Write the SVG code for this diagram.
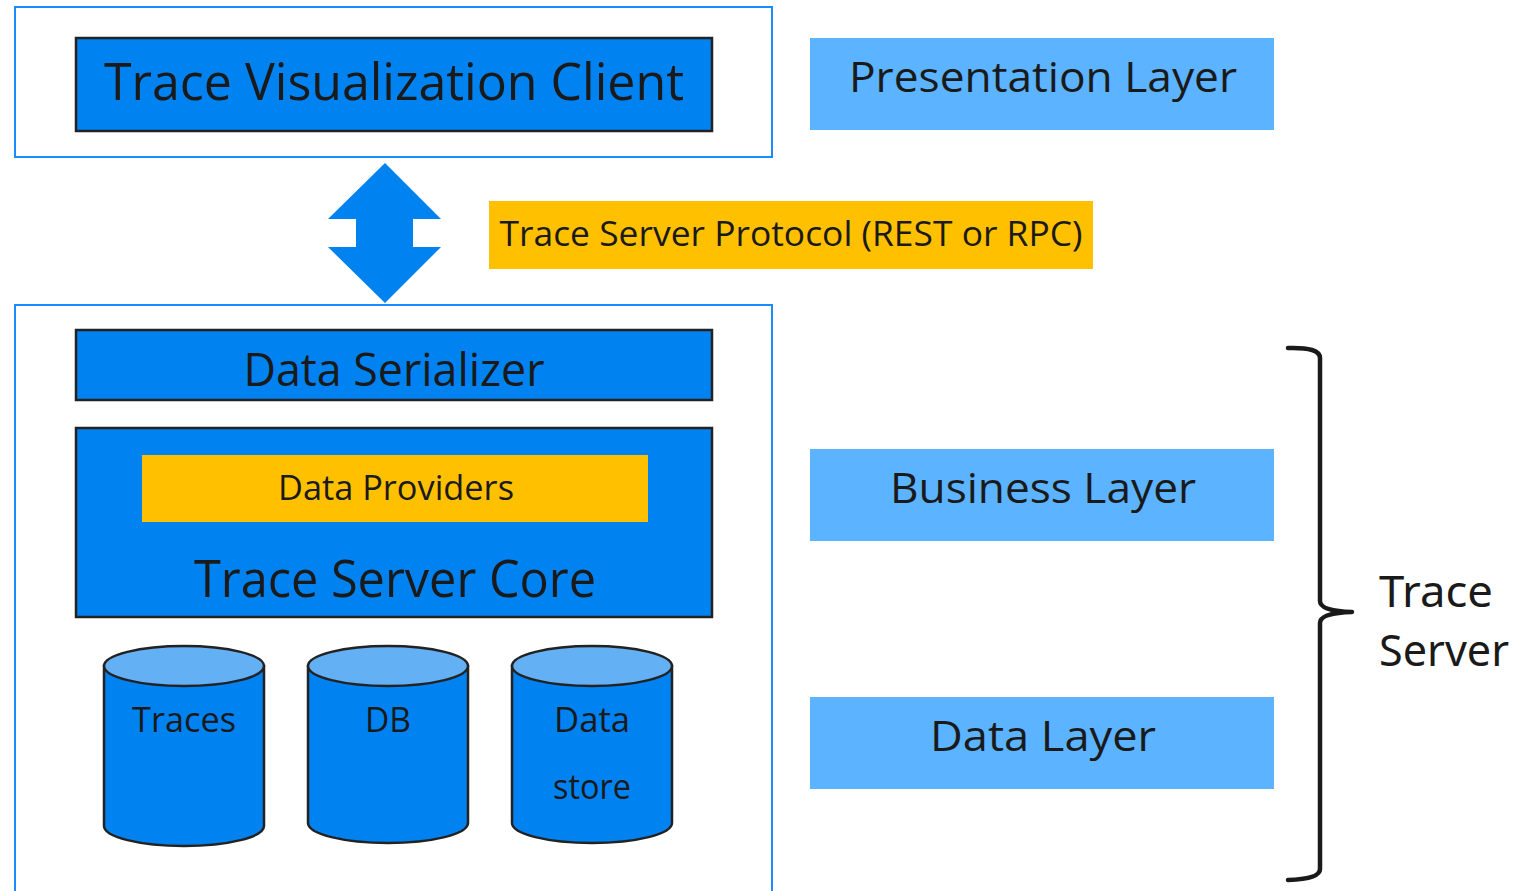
<svg xmlns="http://www.w3.org/2000/svg" width="1524" height="891" viewBox="0 0 1524 891">
  <style>
    .frame { fill: #ffffff; stroke: #1a8cff; stroke-width: 2; }
    .block { fill: #0082f0; stroke: #222222; stroke-width: 2.5; }
    .amber { fill: #ffc000; }
    .layer { fill: #5cb3ff; }
    .lbl { font-family: "Open Sans", "Noto Sans", sans-serif; fill: #1a1a1a; text-anchor: middle; }
    .side { font-family: "Noto Sans", "Open Sans", sans-serif; fill: #1a1a1a; }
    .cyl-body { fill: #0082f0; stroke: #222222; stroke-width: 2.5; }
    .cyl-top { fill: #63b0f5; stroke: #222222; stroke-width: 2.5; }
  </style>

  <!-- client tier -->
  <g id="client-frame">
    <rect class="frame" x="15" y="7" width="757" height="150"/>
  </g>
  <g id="trace-visualization-client">
    <rect class="block" x="76" y="38" width="636" height="93"/>
    <text class="lbl" x="394" y="100" font-size="52" textLength="580" lengthAdjust="spacingAndGlyphs">Trace Visualization Client</text>
  </g>

  <!-- protocol link -->
  <g id="connectors">
    <polygon fill="#0082f0" points="385,163 441,219 413,219 413,247 441,247 385,303 328,247 356,247 356,219 328,219"/>
  </g>
  <g id="protocol-label">
    <rect class="amber" x="489" y="201" width="604" height="68"/>
    <text class="lbl" x="791" y="246" font-size="34" textLength="583" lengthAdjust="spacingAndGlyphs">Trace Server Protocol (REST or RPC)</text>
  </g>

  <!-- server tier -->
  <g id="server-frame">
    <rect class="frame" x="15" y="305" width="757" height="600"/>
  </g>
  <g id="data-serializer">
    <rect class="block" x="76" y="330" width="636" height="70"/>
    <text class="lbl" x="394" y="386" font-size="46" textLength="301" lengthAdjust="spacingAndGlyphs">Data Serializer</text>
  </g>
  <g id="trace-server-core">
    <rect class="block" x="76" y="428" width="636" height="189"/>
    <text class="lbl" x="395" y="597" font-size="52" textLength="402" lengthAdjust="spacingAndGlyphs">Trace Server Core</text>
  </g>
  <g id="data-providers">
    <rect class="amber" x="142" y="455" width="506" height="67"/>
    <text class="lbl" x="396" y="500" font-size="34" textLength="236" lengthAdjust="spacingAndGlyphs">Data Providers</text>
  </g>

  <!-- storage -->
  <g id="traces-store">
    <path class="cyl-body" d="M104,666 L104,826 A80,20 0 0 0 264,826 L264,666 Z"/>
    <ellipse class="cyl-top" cx="184" cy="666" rx="80" ry="20"/>
    <text class="lbl" x="184" y="732" font-size="34" textLength="104" lengthAdjust="spacingAndGlyphs">Traces</text>
  </g>
  <g id="db-store">
    <path class="cyl-body" d="M308,666 L308,823 A80,20 0 0 0 468,823 L468,666 Z"/>
    <ellipse class="cyl-top" cx="388" cy="666" rx="80" ry="20"/>
    <text class="lbl" x="388" y="732" font-size="34" textLength="46" lengthAdjust="spacingAndGlyphs">DB</text>
  </g>
  <g id="data-store">
    <path class="cyl-body" d="M512,666 L512,823 A80,20 0 0 0 672,823 L672,666 Z"/>
    <ellipse class="cyl-top" cx="592" cy="666" rx="80" ry="20"/>
    <text class="lbl" x="592" y="732" font-size="34" textLength="76" lengthAdjust="spacingAndGlyphs">Data</text>
    <text class="lbl" x="592" y="799" font-size="34" textLength="78" lengthAdjust="spacingAndGlyphs">store</text>
  </g>

  <!-- layer legend -->
  <g id="presentation-layer">
    <rect class="layer" x="810" y="38" width="464" height="92"/>
    <text class="lbl" x="1043" y="92" font-size="42" textLength="388" lengthAdjust="spacingAndGlyphs">Presentation Layer</text>
  </g>
  <g id="business-layer">
    <rect class="layer" x="810" y="449" width="464" height="92"/>
    <text class="lbl" x="1043" y="503" font-size="42" textLength="306" lengthAdjust="spacingAndGlyphs">Business Layer</text>
  </g>
  <g id="data-layer">
    <rect class="layer" x="810" y="697" width="464" height="92"/>
    <text class="lbl" x="1043" y="751" font-size="42" textLength="226" lengthAdjust="spacingAndGlyphs">Data Layer</text>
  </g>

  <!-- trace server bracket -->
  <g id="trace-server-brace">
    <path d="M1288,348 Q1320,347 1320,358 L1320,601 Q1320,611 1352,612 Q1320,613 1320,623 L1320,869 Q1320,879 1288,880" fill="none" stroke="#1a1a1a" stroke-width="4.5" stroke-linecap="round" stroke-linejoin="round"/>
    <text class="side" x="1379" y="607" font-size="44" textLength="114" lengthAdjust="spacingAndGlyphs">Trace</text>
    <text class="side" x="1379" y="666" font-size="44" textLength="130" lengthAdjust="spacingAndGlyphs">Server</text>
  </g>
</svg>
